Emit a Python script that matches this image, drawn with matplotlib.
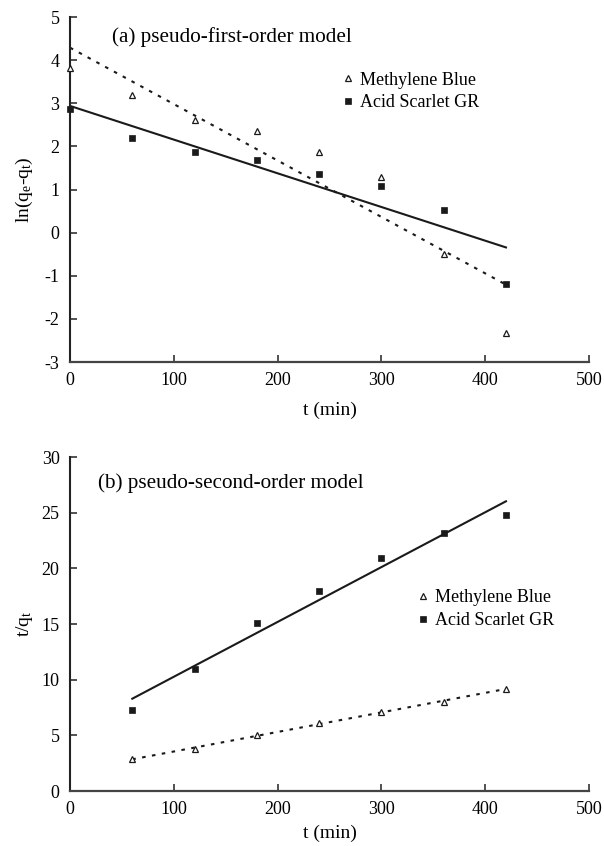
import numpy as np
import matplotlib
matplotlib.use("Agg")
import matplotlib.pyplot as plt

plt.rcParams["font.family"] = ["Liberation Serif", "DejaVu Serif"]
plt.rcParams["mathtext.fontset"] = "custom"
plt.rcParams["mathtext.rm"] = "Liberation Serif"
plt.rcParams["mathtext.it"] = "Liberation Serif"
plt.rcParams["axes.unicode_minus"] = False

# sampling times (min)
t_first = [0, 60, 120, 180, 240, 300, 360, 420]
t_second = [60, 120, 180, 240, 300, 360, 420]

# (a) ln(qe - qt)
mb_first = [3.82, 3.2, 2.61, 2.36, 1.88, 1.28, -0.5, -2.32]
as_first = [2.86, 2.2, 1.86, 1.68, 1.37, 1.07, 0.53, -1.19]

# (b) t/qt
mb_second = [2.85, 3.75, 5.05, 6.15, 7.1, 7.95, 9.2]
as_second = [7.3, 10.95, 15.05, 17.95, 20.9, 23.15, 24.8]

x_ticks = [0, 100, 200, 300, 400, 500]

DOT = (0, (1.7, 3.1))
INK = "#1a1a1a"


def style_axes(ax, xpad):
    for side in ("top", "right"):
        ax.spines[side].set_visible(False)
    ax.spines["left"].set_linewidth(1.5)
    ax.spines["left"].set_color("#222222")
    ax.spines["bottom"].set_linewidth(1.6)
    ax.spines["bottom"].set_color("#444444")
    ax.tick_params(direction="in", length=5, width=1.2, labelsize=13,
                   color="#333333")
    ax.tick_params(axis="y", pad=7.5)
    ax.tick_params(axis="x", pad=7)
    ax.set_xlim(0, 500)
    ax.set_xticks(x_ticks)
    ax.set_xlabel("t (min)", fontsize=14, labelpad=xpad)
    ax.yaxis.set_label_coords(-0.068, 0.5)


def fit_line(ax, t, y, ls):
    k, b = np.polyfit(t, y, 1)
    tt = np.array([min(t), max(t)])
    ax.plot(tt, k * tt + b, color=INK, lw=1.5, ls=ls)


def points(ax, t, y, marker, label):
    if marker == "^":
        ax.plot(t, y, ls="none", marker="^", ms=5, mfc="white", mec=INK,
                mew=0.9, label=label, clip_on=False, zorder=3)
    else:
        ax.plot(t, y, ls="none", marker="s", ms=5, mfc=INK, mec=INK,
                mew=0.5, label=label, clip_on=False, zorder=3)


fig = plt.figure(figsize=(6.04, 8.46), dpi=100)
ax1 = fig.add_axes([0.1159, 0.5721, 0.8593, 0.4078])
ax2 = fig.add_axes([0.1159, 0.0650, 0.8593, 0.3948])

# (a) pseudo-first-order
fit_line(ax1, t_first, mb_first, DOT)
fit_line(ax1, t_first, as_first, "-")
points(ax1, t_first, mb_first, "^", "Methylene Blue")
points(ax1, t_first, as_first, "s", "Acid Scarlet GR")
style_axes(ax1, 9)
ax1.set_ylim(-3, 5)
ax1.set_yticks(range(-3, 6))
ax1.set_ylabel("ln(q$_\\mathrm{e}$-q$_\\mathrm{t}$)", fontsize=14)
ax1.text(0.081, 0.942, "(a) pseudo-first-order model", transform=ax1.transAxes,
         fontsize=15.2, va="center", ha="left")
ax1.legend(loc="center left", bbox_to_anchor=(0.525, 0.784), frameon=False,
           fontsize=13, handlelength=0.6, handletextpad=0.35,
           labelspacing=0.3, borderpad=0, borderaxespad=0)

# (b) pseudo-second-order
fit_line(ax2, t_second, mb_second, DOT)
fit_line(ax2, t_second, as_second, "-")
points(ax2, t_second, mb_second, "^", "Methylene Blue")
points(ax2, t_second, as_second, "s", "Acid Scarlet GR")
style_axes(ax2, 5)
ax2.set_ylim(0, 30)
ax2.set_yticks(range(0, 31, 5))
ax2.set_ylabel("t/q$_\\mathrm{t}$", fontsize=14)
ax2.text(0.054, 0.922, "(b) pseudo-second-order model", transform=ax2.transAxes,
         fontsize=15.2, va="center", ha="left")
ax2.legend(loc="center left", bbox_to_anchor=(0.670, 0.545), frameon=False,
           fontsize=13, handlelength=0.6, handletextpad=0.35,
           labelspacing=0.35, borderpad=0, borderaxespad=0)

fig.savefig("out.png", dpi=100)
